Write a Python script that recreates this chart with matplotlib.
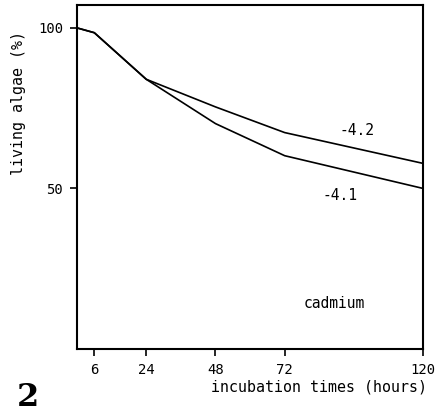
import matplotlib.pyplot as plt

# -------------------------------
# Data
# -------------------------------
hours = [0, 6, 24, 48, 72, 120]
living_42 = [100, 98.5, 84, 75.4, 67.4, 57.8]   # curve labelled -4.2
living_41 = [100, 98.5, 84, 70.2, 60.2, 50.0]   # curve labelled -4.1
xticks = [6, 24, 48, 72, 120]
yticks = [50, 100]

mono = "DejaVu Sans Mono"

fig = plt.figure(figsize=(4.41, 4.17), dpi=100)
ax = fig.add_axes([0.1746, 0.163, 0.785, 0.824])

ax.plot(hours, living_42, color="black", linewidth=1.2)
ax.plot(hours, living_41, color="black", linewidth=1.2)

ax.set_xlim(0, 120)
ax.set_ylim(0, 107)
ax.set_xticks(xticks)
ax.set_yticks(yticks)
ax.tick_params(direction="out", length=5, width=1.2, labelsize=10, pad=5)
for lab in ax.get_xticklabels() + ax.get_yticklabels():
    lab.set_family(mono)
for sp in ax.spines.values():
    sp.set_linewidth(1.5)

# curve labels
ax.text(97, 68, "-4.2", family=mono, fontsize=10.5, ha="center", va="center")
ax.text(91, 47.8, "-4.1", family=mono, fontsize=10.5, ha="center", va="center")
ax.text(89, 14.2, "cadmium", family=mono, fontsize=10.5, ha="center", va="center")

# axis labels placed like the original
fig.text(319 / 441, 1 - 387 / 417, "incubation times (hours)", family=mono,
         fontsize=10.8, ha="center", va="center")
fig.text(19 / 441, 1 - 103 / 417, "living algae (%)", family=mono, fontsize=10.8,
         rotation=90, ha="center", va="center")

# panel number
fig.text(28 / 441, 1 - 398 / 417, "2", family="DejaVu Serif", fontsize=23,
         fontweight="bold", ha="center", va="center")

plt.savefig("out.png", dpi=100)
plt.close()
